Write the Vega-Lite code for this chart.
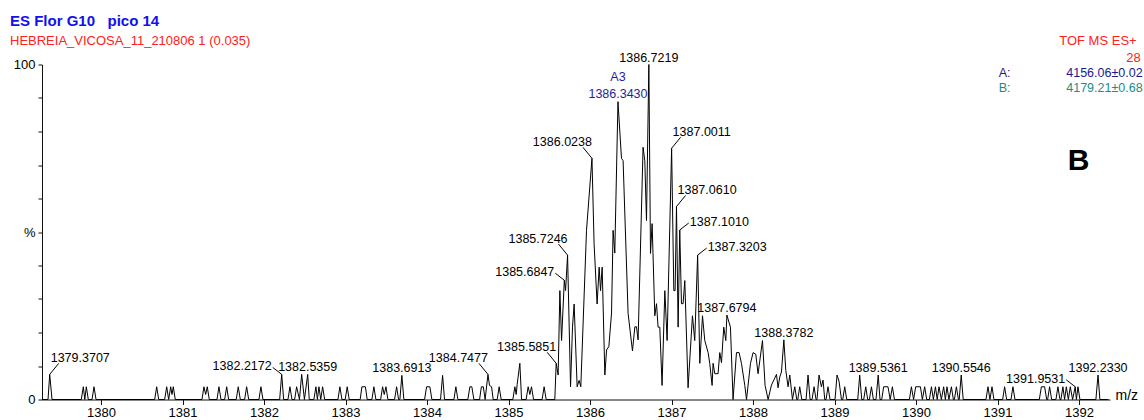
{
  "$schema": "https://vega.github.io/schema/vega-lite/v6.json",
  "width": 1068,
  "height": 335,
  "autosize": "none",
  "padding": {"left": 42, "top": 64.5, "right": 34, "bottom": 20.5},
  "background": "white",
  "config": {
    "view": {"stroke": null},
    "font": "Liberation Sans",
    "axis": {"domainColor": "#111", "tickColor": "#111", "labelColor": "#000", "grid": false}
  },
  "title": {
    "text": "ES Flor G10\u00a0\u00a0\u00a0pico 14",
    "subtitle": "HEBREIA_VICOSA_11_210806 1 (0.035)",
    "anchor": "start",
    "frame": "group",
    "dx": -32,
    "font": "Liberation Sans",
    "fontSize": 15,
    "fontWeight": "bold",
    "color": "#1010f0",
    "subtitleFont": "Liberation Sans",
    "subtitleFontSize": 13,
    "subtitleColor": "#ff2020",
    "subtitlePadding": 6,
    "offset": -13
  },
  "resolve": {"axis": {"x": "independent", "y": "independent"}},
  "datasets": {
    "spectrum": [
      {"mz": 1379.276, "pct": 0}, {"mz": 1379.35, "pct": 0}, {"mz": 1379.3707, "pct": 7.5}, {"mz": 1379.399, "pct": 0},
      {"mz": 1379.758, "pct": 0}, {"mz": 1379.783, "pct": 3.8}, {"mz": 1379.801, "pct": 0}, {"mz": 1379.82, "pct": 3.8}, {"mz": 1379.844, "pct": 0},
      {"mz": 1379.89, "pct": 0}, {"mz": 1379.914, "pct": 3.8}, {"mz": 1379.939, "pct": 0},
      {"mz": 1380.659, "pct": 0}, {"mz": 1380.683, "pct": 3.8}, {"mz": 1380.708, "pct": 0},
      {"mz": 1380.781, "pct": 0}, {"mz": 1380.806, "pct": 3.8}, {"mz": 1380.83, "pct": 0}, {"mz": 1380.855, "pct": 3.8}, {"mz": 1380.871, "pct": 1.5}, {"mz": 1380.887, "pct": 3.8}, {"mz": 1380.911, "pct": 0},
      {"mz": 1381.239, "pct": 0}, {"mz": 1381.263, "pct": 3.8}, {"mz": 1381.284, "pct": 1.5}, {"mz": 1381.304, "pct": 3.8}, {"mz": 1381.328, "pct": 0},
      {"mz": 1381.423, "pct": 0}, {"mz": 1381.447, "pct": 3.8}, {"mz": 1381.472, "pct": 0},
      {"mz": 1381.517, "pct": 0}, {"mz": 1381.542, "pct": 3.8}, {"mz": 1381.566, "pct": 0},
      {"mz": 1381.659, "pct": 0}, {"mz": 1381.684, "pct": 3.8}, {"mz": 1381.709, "pct": 0},
      {"mz": 1381.762, "pct": 0}, {"mz": 1381.787, "pct": 3.8}, {"mz": 1381.812, "pct": 0},
      {"mz": 1381.938, "pct": 0}, {"mz": 1381.962, "pct": 3.8}, {"mz": 1381.987, "pct": 0},
      {"mz": 1382.192, "pct": 0}, {"mz": 1382.2172, "pct": 7.5}, {"mz": 1382.241, "pct": 0},
      {"mz": 1382.294, "pct": 0}, {"mz": 1382.318, "pct": 3.8}, {"mz": 1382.343, "pct": 0},
      {"mz": 1382.376, "pct": 0}, {"mz": 1382.4, "pct": 3.8}, {"mz": 1382.435, "pct": 0},
      {"mz": 1382.462, "pct": 7.5}, {"mz": 1382.496, "pct": 0}, {"mz": 1382.5359, "pct": 7.5}, {"mz": 1382.555, "pct": 0},
      {"mz": 1382.612, "pct": 0}, {"mz": 1382.637, "pct": 3.8}, {"mz": 1382.655, "pct": 0}, {"mz": 1382.674, "pct": 3.8}, {"mz": 1382.696, "pct": 0}, {"mz": 1382.719, "pct": 3.8}, {"mz": 1382.744, "pct": 0},
      {"mz": 1382.907, "pct": 0}, {"mz": 1382.931, "pct": 3.8}, {"mz": 1382.956, "pct": 0},
      {"mz": 1382.996, "pct": 0}, {"mz": 1383.021, "pct": 3.8}, {"mz": 1383.045, "pct": 0},
      {"mz": 1383.18, "pct": 0}, {"mz": 1383.201, "pct": 3.8}, {"mz": 1383.244, "pct": 3.8}, {"mz": 1383.266, "pct": 0},
      {"mz": 1383.324, "pct": 0}, {"mz": 1383.348, "pct": 3.8}, {"mz": 1383.373, "pct": 0},
      {"mz": 1383.431, "pct": 0}, {"mz": 1383.455, "pct": 3.8}, {"mz": 1383.475, "pct": 1.5}, {"mz": 1383.496, "pct": 3.8}, {"mz": 1383.52, "pct": 0},
      {"mz": 1383.602, "pct": 0}, {"mz": 1383.627, "pct": 3.8}, {"mz": 1383.651, "pct": 0},
      {"mz": 1383.667, "pct": 0}, {"mz": 1383.6913, "pct": 7.2}, {"mz": 1383.716, "pct": 0},
      {"mz": 1383.97, "pct": 0}, {"mz": 1383.995, "pct": 3.8}, {"mz": 1384.035, "pct": 3.8}, {"mz": 1384.06, "pct": 0},
      {"mz": 1384.166, "pct": 0}, {"mz": 1384.191, "pct": 7.2}, {"mz": 1384.215, "pct": 0},
      {"mz": 1384.33, "pct": 0}, {"mz": 1384.354, "pct": 3.8}, {"mz": 1384.379, "pct": 0},
      {"mz": 1384.501, "pct": 0}, {"mz": 1384.526, "pct": 3.8}, {"mz": 1384.55, "pct": 3.8}, {"mz": 1384.575, "pct": 0},
      {"mz": 1384.645, "pct": 0}, {"mz": 1384.667, "pct": 3.8}, {"mz": 1384.691, "pct": 3.8}, {"mz": 1384.713, "pct": 0},
      {"mz": 1384.7477, "pct": 7.5}, {"mz": 1384.767, "pct": 4.2}, {"mz": 1384.792, "pct": 3.8}, {"mz": 1384.812, "pct": 0},
      {"mz": 1384.861, "pct": 0}, {"mz": 1384.885, "pct": 3.8}, {"mz": 1384.91, "pct": 0},
      {"mz": 1385.053, "pct": 0}, {"mz": 1385.078, "pct": 3.8}, {"mz": 1385.094, "pct": 1.5}, {"mz": 1385.106, "pct": 4.5}, {"mz": 1385.139, "pct": 10.8}, {"mz": 1385.16, "pct": 0},
      {"mz": 1385.216, "pct": 0}, {"mz": 1385.241, "pct": 3.8}, {"mz": 1385.262, "pct": 1.5}, {"mz": 1385.282, "pct": 3.8}, {"mz": 1385.307, "pct": 0},
      {"mz": 1385.412, "pct": 0}, {"mz": 1385.437, "pct": 3.8}, {"mz": 1385.462, "pct": 0},
      {"mz": 1385.568, "pct": 0}, {"mz": 1385.5851, "pct": 10.8}, {"mz": 1385.609, "pct": 7.3}, {"mz": 1385.63, "pct": 32.5},
      {"mz": 1385.651, "pct": 17.6}, {"mz": 1385.6847, "pct": 35.6}, {"mz": 1385.7, "pct": 32.5}, {"mz": 1385.7246, "pct": 43.1},
      {"mz": 1385.761, "pct": 3.8}, {"mz": 1385.785, "pct": 21.6}, {"mz": 1385.805, "pct": 28.5}, {"mz": 1385.842, "pct": 3.8},
      {"mz": 1385.866, "pct": 5.7}, {"mz": 1385.887, "pct": 3.8}, {"mz": 1385.957, "pct": 50.5}, {"mz": 1386.0238, "pct": 72.0},
      {"mz": 1386.05, "pct": 46.5}, {"mz": 1386.087, "pct": 28.5}, {"mz": 1386.112, "pct": 39.5}, {"mz": 1386.129, "pct": 32.5},
      {"mz": 1386.149, "pct": 39.5}, {"mz": 1386.182, "pct": 7.3}, {"mz": 1386.203, "pct": 14.8}, {"mz": 1386.231, "pct": 15.8},
      {"mz": 1386.264, "pct": 25.8}, {"mz": 1386.283, "pct": 50.5}, {"mz": 1386.304, "pct": 43.7}, {"mz": 1386.343, "pct": 88.9},
      {"mz": 1386.386, "pct": 72.0}, {"mz": 1386.406, "pct": 71.3}, {"mz": 1386.467, "pct": 25.7}, {"mz": 1386.521, "pct": 14.5},
      {"mz": 1386.55, "pct": 21.7}, {"mz": 1386.57, "pct": 21.7}, {"mz": 1386.59, "pct": 17.8}, {"mz": 1386.651, "pct": 75.3},
      {"mz": 1386.672, "pct": 71.3}, {"mz": 1386.693, "pct": 53.4}, {"mz": 1386.7219, "pct": 100}, {"mz": 1386.742, "pct": 43.6},
      {"mz": 1386.762, "pct": 52.5}, {"mz": 1386.795, "pct": 25.0}, {"mz": 1386.816, "pct": 28.6}, {"mz": 1386.835, "pct": 21.6},
      {"mz": 1386.856, "pct": 21.6}, {"mz": 1386.884, "pct": 4.2}, {"mz": 1386.918, "pct": 32.5}, {"mz": 1386.946, "pct": 17.6},
      {"mz": 1387.0011, "pct": 75.0}, {"mz": 1387.028, "pct": 32.5}, {"mz": 1387.044, "pct": 32.5}, {"mz": 1387.061, "pct": 57.6},
      {"mz": 1387.081, "pct": 21.6}, {"mz": 1387.101, "pct": 50.6}, {"mz": 1387.122, "pct": 28.6}, {"mz": 1387.142, "pct": 28.6},
      {"mz": 1387.163, "pct": 35.5}, {"mz": 1387.203, "pct": 3.5}, {"mz": 1387.257, "pct": 25.0}, {"mz": 1387.285, "pct": 17.6},
      {"mz": 1387.3203, "pct": 43.1}, {"mz": 1387.347, "pct": 10.8}, {"mz": 1387.38, "pct": 25.0}, {"mz": 1387.408, "pct": 17.6},
      {"mz": 1387.449, "pct": 14.0}, {"mz": 1387.469, "pct": 10.8}, {"mz": 1387.498, "pct": 4.2}, {"mz": 1387.51, "pct": 10.8},
      {"mz": 1387.531, "pct": 7.7}, {"mz": 1387.571, "pct": 7.7}, {"mz": 1387.592, "pct": 14.0}, {"mz": 1387.613, "pct": 11.0},
      {"mz": 1387.641, "pct": 21.6}, {"mz": 1387.666, "pct": 17.6}, {"mz": 1387.6794, "pct": 25.2}, {"mz": 1387.723, "pct": 21.6},
      {"mz": 1387.755, "pct": 0}, {"mz": 1387.797, "pct": 14.0}, {"mz": 1387.829, "pct": 14.0}, {"mz": 1387.858, "pct": 10.8},
      {"mz": 1387.899, "pct": 4.2}, {"mz": 1387.92, "pct": 0}, {"mz": 1387.969, "pct": 10.8}, {"mz": 1388.001, "pct": 14.0},
      {"mz": 1388.034, "pct": 13.5}, {"mz": 1388.062, "pct": 7.7}, {"mz": 1388.116, "pct": 17.6}, {"mz": 1388.148, "pct": 4.2},
      {"mz": 1388.185, "pct": 0}, {"mz": 1388.226, "pct": 4.3}, {"mz": 1388.288, "pct": 7.5}, {"mz": 1388.307, "pct": 3.5},
      {"mz": 1388.328, "pct": 6.7}, {"mz": 1388.349, "pct": 8.2}, {"mz": 1388.3782, "pct": 17.8}, {"mz": 1388.402, "pct": 8.7},
      {"mz": 1388.43, "pct": 3.8}, {"mz": 1388.451, "pct": 7.3}, {"mz": 1388.484, "pct": 0},
      {"mz": 1388.512, "pct": 3.8}, {"mz": 1388.537, "pct": 0}, {"mz": 1388.549, "pct": 0}, {"mz": 1388.573, "pct": 3.8}, {"mz": 1388.598, "pct": 0},
      {"mz": 1388.651, "pct": 0}, {"mz": 1388.675, "pct": 7.3}, {"mz": 1388.7, "pct": 0},
      {"mz": 1388.724, "pct": 0}, {"mz": 1388.749, "pct": 3.8}, {"mz": 1388.773, "pct": 0},
      {"mz": 1388.785, "pct": 0}, {"mz": 1388.81, "pct": 7.3}, {"mz": 1388.839, "pct": 3.8}, {"mz": 1388.859, "pct": 5.8}, {"mz": 1388.88, "pct": 0},
      {"mz": 1388.896, "pct": 0}, {"mz": 1388.92, "pct": 3.8}, {"mz": 1388.945, "pct": 0},
      {"mz": 1389.006, "pct": 0}, {"mz": 1389.031, "pct": 7.3}, {"mz": 1389.055, "pct": 5.5}, {"mz": 1389.085, "pct": 0},
      {"mz": 1389.101, "pct": 0}, {"mz": 1389.125, "pct": 3.8}, {"mz": 1389.15, "pct": 0},
      {"mz": 1389.285, "pct": 0}, {"mz": 1389.309, "pct": 7.3}, {"mz": 1389.334, "pct": 0},
      {"mz": 1389.358, "pct": 0}, {"mz": 1389.383, "pct": 3.8}, {"mz": 1389.407, "pct": 0},
      {"mz": 1389.428, "pct": 0}, {"mz": 1389.453, "pct": 3.8}, {"mz": 1389.477, "pct": 0},
      {"mz": 1389.509, "pct": 0}, {"mz": 1389.5361, "pct": 7.3}, {"mz": 1389.558, "pct": 0},
      {"mz": 1389.579, "pct": 0}, {"mz": 1389.603, "pct": 3.8}, {"mz": 1389.656, "pct": 3.8}, {"mz": 1389.683, "pct": 0},
      {"mz": 1389.71, "pct": 3.8}, {"mz": 1389.735, "pct": 0},
      {"mz": 1389.919, "pct": 0}, {"mz": 1389.943, "pct": 3.8}, {"mz": 1389.97, "pct": 0},
      {"mz": 1389.996, "pct": 3.8}, {"mz": 1390.054, "pct": 3.8}, {"mz": 1390.078, "pct": 0},
      {"mz": 1390.106, "pct": 3.8}, {"mz": 1390.131, "pct": 0},
      {"mz": 1390.164, "pct": 0}, {"mz": 1390.189, "pct": 3.8}, {"mz": 1390.213, "pct": 0},
      {"mz": 1390.238, "pct": 3.8}, {"mz": 1390.26, "pct": 0}, {"mz": 1390.282, "pct": 3.8}, {"mz": 1390.311, "pct": 0},
      {"mz": 1390.339, "pct": 3.8}, {"mz": 1390.36, "pct": 0}, {"mz": 1390.38, "pct": 3.8}, {"mz": 1390.404, "pct": 0},
      {"mz": 1390.434, "pct": 3.8}, {"mz": 1390.458, "pct": 0},
      {"mz": 1390.471, "pct": 0}, {"mz": 1390.495, "pct": 3.8}, {"mz": 1390.52, "pct": 0},
      {"mz": 1390.53, "pct": 0}, {"mz": 1390.5546, "pct": 7.3}, {"mz": 1390.579, "pct": 0},
      {"mz": 1390.858, "pct": 0}, {"mz": 1390.883, "pct": 3.8}, {"mz": 1390.907, "pct": 0}, {"mz": 1390.932, "pct": 3.8}, {"mz": 1390.956, "pct": 0},
      {"mz": 1391.063, "pct": 0}, {"mz": 1391.087, "pct": 3.8}, {"mz": 1391.112, "pct": 0},
      {"mz": 1391.165, "pct": 0}, {"mz": 1391.189, "pct": 3.8}, {"mz": 1391.214, "pct": 0},
      {"mz": 1391.513, "pct": 0}, {"mz": 1391.538, "pct": 3.8}, {"mz": 1391.578, "pct": 3.8}, {"mz": 1391.603, "pct": 0},
      {"mz": 1391.615, "pct": 0}, {"mz": 1391.639, "pct": 3.8}, {"mz": 1391.664, "pct": 0},
      {"mz": 1391.717, "pct": 0}, {"mz": 1391.741, "pct": 3.8}, {"mz": 1391.766, "pct": 0},
      {"mz": 1391.778, "pct": 0}, {"mz": 1391.802, "pct": 3.8}, {"mz": 1391.823, "pct": 0}, {"mz": 1391.844, "pct": 3.8}, {"mz": 1391.869, "pct": 0},
      {"mz": 1391.893, "pct": 3.8}, {"mz": 1391.921, "pct": 0}, {"mz": 1391.9531, "pct": 3.8}, {"mz": 1391.968, "pct": 0},
      {"mz": 1391.987, "pct": 3.8}, {"mz": 1392.011, "pct": 0},
      {"mz": 1392.207, "pct": 0}, {"mz": 1392.233, "pct": 7.3}, {"mz": 1392.256, "pct": 0}, {"mz": 1392.36, "pct": 0}
    ]
  },
  "data": {"name": "spectrum"},
  "layer": [
    {
      "encoding": {
        "x": {
          "field": "mz",
          "type": "quantitative",
          "scale": {"domain": [1379.276, 1392.38], "nice": false, "zero": false},
          "axis": {
            "values": [1380, 1381, 1382, 1383, 1384, 1385, 1386, 1387, 1388, 1389, 1390, 1391, 1392],
            "format": "d",
            "labelFont": "Liberation Sans",
            "labelFontSize": 13,
            "labelPadding": 2,
            "tickSize": 5,
            "labelFlush": false,
            "labelOverlap": false,
            "title": "m/z",
            "titleFont": "Liberation Sans",
            "titleFontSize": 14,
            "titleFontWeight": "normal",
            "titleAlign": "left",
            "titleBaseline": "alphabetic",
            "titleAnchor": "start",
            "titleX": 1073,
            "titleY": 0
          }
        },
        "y": {
          "field": "pct",
          "type": "quantitative",
          "scale": {"domain": [0, 100], "nice": false},
          "axis": {
            "values": [0, 10, 20, 30, 40, 50, 60, 70, 80, 90, 100],
            "labelExpr": "datum.value == 100 ? '100' : datum.value == 50 ? '%' : datum.value == 0 ? '0' : ''",
            "labelFont": "Liberation Sans",
            "labelFontSize": 13,
            "labelPadding": 3,
            "tickSize": 4,
            "title": null
          }
        }
      },
      "layer": [
        {
          "mark": {"type": "line", "color": "#000", "strokeWidth": 1, "interpolate": "linear"}
        },
        {
          "transform": [{"filter": {"field": "mz", "oneOf": [1384.7477, 1385.5851, 1385.7246, 1386.0238]}}],
          "mark": {"type": "rule", "color": "#000", "strokeWidth": 1, "x2Offset": -9, "y2Offset": -11},
          "encoding": {"x2": {"field": "mz"}, "y2": {"field": "pct"}}
        },
        {
          "transform": [{"filter": {"field": "mz", "oneOf": [1379.3707, 1387.0011, 1387.061]}}],
          "mark": {"type": "rule", "color": "#000", "strokeWidth": 1, "x2Offset": 9, "y2Offset": -11},
          "encoding": {"x2": {"field": "mz"}, "y2": {"field": "pct"}}
        },
        {
          "transform": [{"filter": {"field": "mz", "oneOf": [1382.2172, 1385.6847, 1391.9531]}}],
          "mark": {"type": "rule", "color": "#000", "strokeWidth": 1, "x2Offset": -9, "y2Offset": -7},
          "encoding": {"x2": {"field": "mz"}, "y2": {"field": "pct"}}
        },
        {
          "transform": [{"filter": {"field": "mz", "oneOf": [1387.101, 1387.3203]}}],
          "mark": {"type": "rule", "color": "#000", "strokeWidth": 1, "x2Offset": 9, "y2Offset": -7},
          "encoding": {"x2": {"field": "mz"}, "y2": {"field": "pct"}}
        },
        {
          "transform": [{"filter": {"field": "mz", "oneOf": [1382.5359, 1383.6913, 1386.7219, 1387.6794, 1388.3782, 1389.5361, 1390.5546, 1392.233]}}],
          "mark": {"type": "text", "font": "Liberation Sans", "fontSize": 12.5, "color": "#000", "align": "center", "baseline": "alphabetic", "dy": -3},
          "encoding": {"text": {"field": "mz", "type": "quantitative", "format": ".4f"}}
        },
        {
          "transform": [{"filter": {"field": "mz", "oneOf": [1384.7477, 1385.5851, 1385.7246, 1386.0238]}}],
          "mark": {"type": "text", "font": "Liberation Sans", "fontSize": 12.5, "color": "#000", "align": "right", "baseline": "alphabetic", "dx": 0, "dy": -12.5},
          "encoding": {"text": {"field": "mz", "type": "quantitative", "format": ".4f"}}
        },
        {
          "transform": [{"filter": {"field": "mz", "oneOf": [1379.3707, 1387.0011, 1387.061]}}],
          "mark": {"type": "text", "font": "Liberation Sans", "fontSize": 12.5, "color": "#000", "align": "left", "baseline": "alphabetic", "dx": 1, "dy": -12.5},
          "encoding": {"text": {"field": "mz", "type": "quantitative", "format": ".4f"}}
        },
        {
          "transform": [{"filter": {"field": "mz", "oneOf": [1382.2172, 1385.6847, 1391.9531]}}],
          "mark": {"type": "text", "font": "Liberation Sans", "fontSize": 12.5, "color": "#000", "align": "right", "baseline": "middle", "dx": -10, "dy": -8},
          "encoding": {"text": {"field": "mz", "type": "quantitative", "format": ".4f"}}
        },
        {
          "transform": [{"filter": {"field": "mz", "oneOf": [1387.101, 1387.3203]}}],
          "mark": {"type": "text", "font": "Liberation Sans", "fontSize": 12.5, "color": "#000", "align": "left", "baseline": "middle", "dx": 10, "dy": -8},
          "encoding": {"text": {"field": "mz", "type": "quantitative", "format": ".4f"}}
        },
        {
          "transform": [{"filter": {"field": "mz", "oneOf": [1386.343]}}],
          "mark": {"type": "text", "font": "Liberation Sans", "fontSize": 12.5, "color": "#1f1f99", "align": "center", "baseline": "alphabetic", "dy": -4},
          "encoding": {"text": {"field": "mz", "type": "quantitative", "format": ".4f"}}
        },
        {
          "transform": [{"filter": {"field": "mz", "oneOf": [1386.343]}}],
          "mark": {"type": "text", "text": "A3", "font": "Liberation Sans", "fontSize": 12.5, "color": "#1f1f99", "align": "center", "baseline": "alphabetic", "dy": -21}
        }
      ]
    },
    {
      "data": {"values": [{}]},
      "mark": {"type": "text", "text": "TOF MS ES+", "font": "Liberation Sans", "fontSize": 13, "color": "#ff2020", "align": "right", "baseline": "alphabetic"},
      "encoding": {"x": {"datum": 1392.707, "type": "quantitative", "axis": null}, "y": {"datum": 105.8, "type": "quantitative", "axis": null}}
    },
    {
      "data": {"values": [{}]},
      "mark": {"type": "text", "text": "28", "font": "Liberation Sans", "fontSize": 13, "color": "#ff2020", "align": "right", "baseline": "alphabetic"},
      "encoding": {"x": {"datum": 1392.756, "type": "quantitative", "axis": null}, "y": {"datum": 100.75, "type": "quantitative", "axis": null}}
    },
    {
      "data": {"values": [{}]},
      "mark": {"type": "text", "text": "A:", "font": "Liberation Sans", "fontSize": 12.5, "color": "#1a1a8c", "align": "left", "baseline": "alphabetic"},
      "encoding": {"x": {"datum": 1391.014, "type": "quantitative", "axis": null}, "y": {"datum": 96.2, "type": "quantitative", "axis": null}}
    },
    {
      "data": {"values": [{}]},
      "mark": {"type": "text", "text": "4156.06±0.02", "font": "Liberation Sans", "fontSize": 12.5, "color": "#1a1a8c", "align": "right", "baseline": "alphabetic"},
      "encoding": {"x": {"datum": 1392.78, "type": "quantitative", "axis": null}, "y": {"datum": 96.2, "type": "quantitative", "axis": null}}
    },
    {
      "data": {"values": [{}]},
      "mark": {"type": "text", "text": "B:", "font": "Liberation Sans", "fontSize": 12.5, "color": "#1a8c8c", "align": "left", "baseline": "alphabetic"},
      "encoding": {"x": {"datum": 1391.014, "type": "quantitative", "axis": null}, "y": {"datum": 91.9, "type": "quantitative", "axis": null}}
    },
    {
      "data": {"values": [{}]},
      "mark": {"type": "text", "text": "4179.21±0.68", "font": "Liberation Sans", "fontSize": 12.5, "color": "#1a8c8c", "align": "right", "baseline": "alphabetic"},
      "encoding": {"x": {"datum": 1392.78, "type": "quantitative", "axis": null}, "y": {"datum": 91.9, "type": "quantitative", "axis": null}}
    },
    {
      "data": {"values": [{}]},
      "mark": {"type": "text", "text": "B", "font": "Liberation Sans", "fontSize": 30, "fontWeight": "bold", "color": "#000", "align": "left", "baseline": "alphabetic"},
      "encoding": {"x": {"datum": 1391.861, "type": "quantitative", "axis": null}, "y": {"datum": 68.5, "type": "quantitative", "axis": null}}
    }
  ]
}
